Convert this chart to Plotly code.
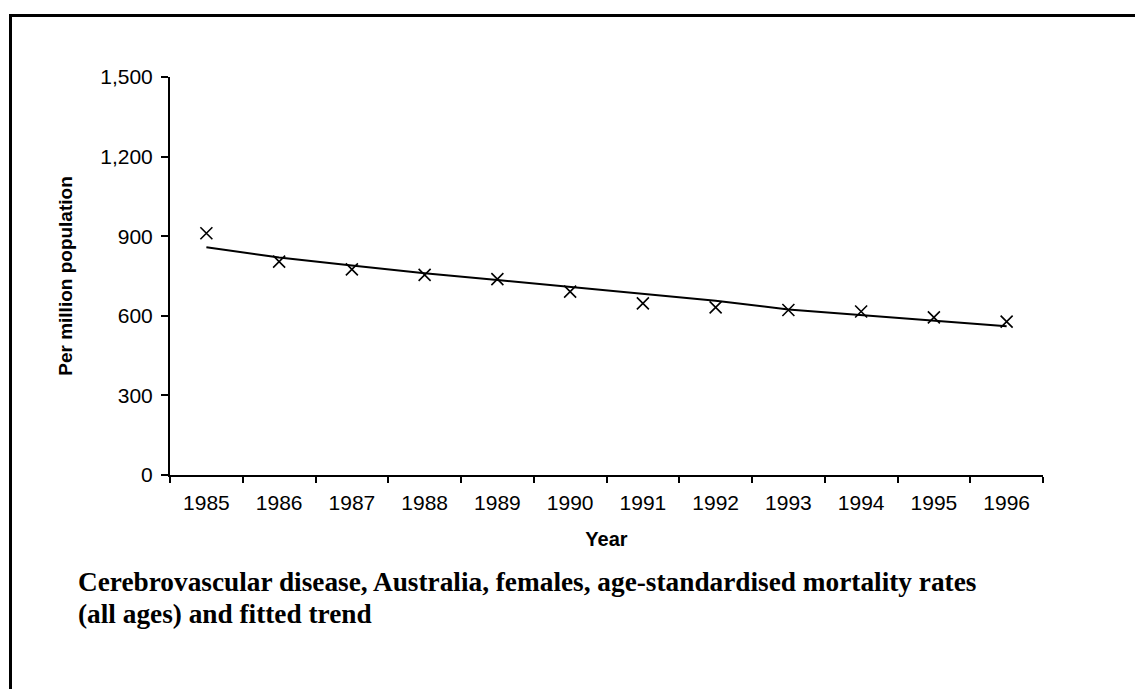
import plotly.graph_objects as go

years = ["1985", "1986", "1987", "1988", "1989", "1990",
         "1991", "1992", "1993", "1994", "1995", "1996"]
rates = [911, 804, 775, 754, 738, 691, 647, 632, 622, 616, 594, 578]
trend = [858, 820, 790, 760, 735, 709, 681, 657, 624, 603, 584, 561]
y_ticks = [0, 300, 600, 900, 1200, 1500]
y_labels = ["0", "300", "600", "900", "1,200", "1,500"]

caption_1 = "Cerebrovascular disease, Australia, females, age-standardised mortality rates"
caption_2 = "(all ages) and fitted trend"

# page has an 8px body margin, so work in screen pixels and shift
OFF = 8
W, H = 1143, 689
L, T = 170 - OFF, 77 - OFF
pw, ph = 873, 398
R, B = W - L - pw, H - T - ph


def px_x(p):
    return (p - OFF - L) / pw


def px_y(p):
    return (T + ph - (p - OFF)) / ph


fig = go.Figure()
fig.add_trace(go.Scatter(x=years, y=trend, mode="lines",
                         line=dict(color="black", width=2), showlegend=False))
fig.add_trace(go.Scatter(x=years, y=rates, mode="markers",
                         marker=dict(symbol="x-thin", size=12, color="black",
                                     line=dict(color="black", width=1.6)),
                         showlegend=False))

axis_font = dict(family="Liberation Sans, Arial", size=21, color="black")
fig.update_layout(
    width=W, height=H,
    margin=dict(l=L, r=R, t=T, b=B),
    paper_bgcolor="white", plot_bgcolor="white",
    xaxis=dict(type="category", range=[-0.5, 11.5], tickson="boundaries",
               ticks="outside", ticklen=6, tickwidth=1.5, tickcolor="black",
               ticklabelstandoff=8,
               showline=True, linecolor="black", linewidth=2, showgrid=False,
               tickfont=axis_font,
               title=dict(text="<b>Year</b>",
                          font=dict(family="Liberation Sans, Arial", size=20, color="black"),
                          standoff=19)),
    yaxis=dict(range=[0, 1500], tickvals=y_ticks, ticktext=y_labels,
               ticks="outside", ticklen=7, tickwidth=1.5, tickcolor="black",
               ticklabelstandoff=4,
               showline=True, linecolor="black", linewidth=2, showgrid=False,
               zeroline=False, tickfont=axis_font,
               title=dict(text="<b>Per million population</b>",
                          font=dict(family="Liberation Sans, Arial", size=19, color="black"),
                          standoff=23)),
)

# caption below the plot, one annotation per line
cap_font = dict(family="Liberation Serif, Times New Roman", size=27.3, color="black")
for text, yc in [(caption_1, 582), (caption_2, 614)]:
    fig.add_annotation(xref="paper", yref="paper", x=px_x(76), y=px_y(yc),
                       xanchor="left", yanchor="middle", showarrow=False,
                       text="<b>" + text + "</b>", font=cap_font)

# outer frame (left and top edges visible)
fig.add_shape(type="line", xref="paper", yref="paper",
              x0=px_x(10.5), x1=px_x(10.5), y0=px_y(14), y1=px_y(720),
              line=dict(color="black", width=3))
fig.add_shape(type="line", xref="paper", yref="paper",
              x0=px_x(9), x1=px_x(1160), y0=px_y(15.5), y1=px_y(15.5),
              line=dict(color="black", width=3))

fig.write_html("out.html")
